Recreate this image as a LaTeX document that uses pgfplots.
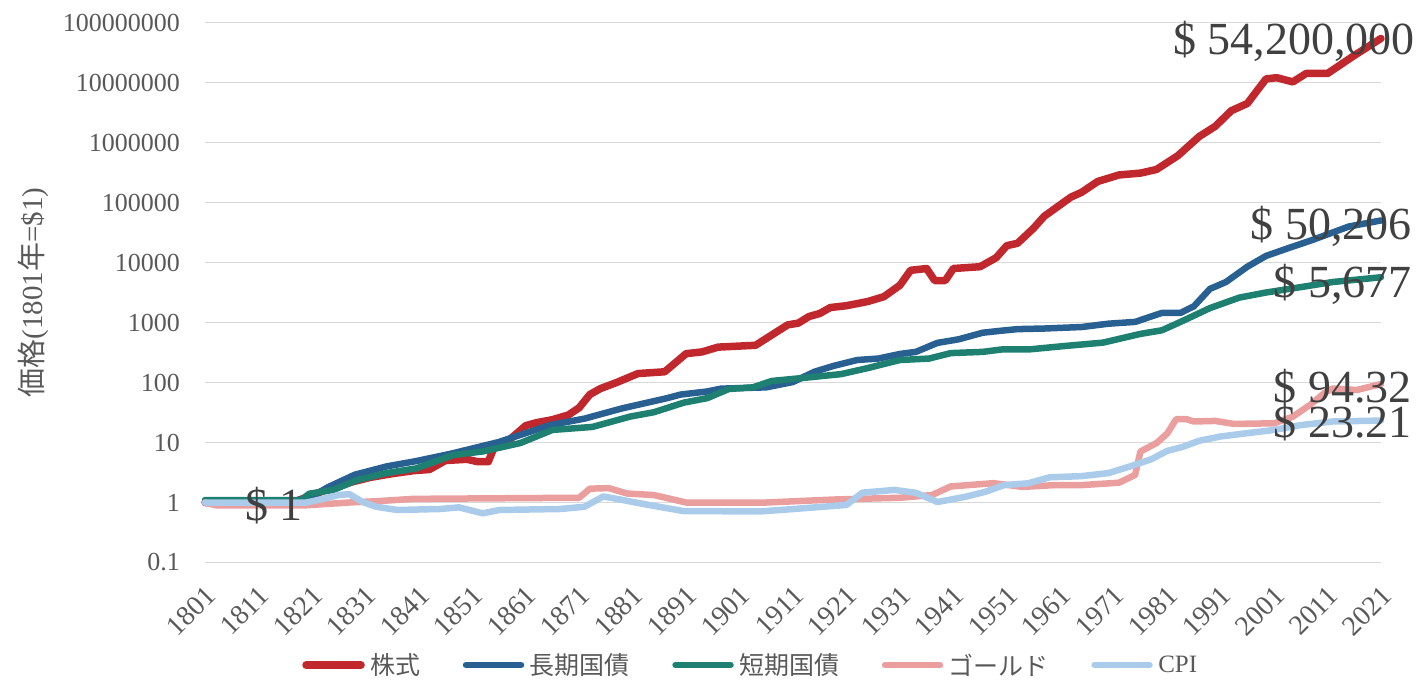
\documentclass[border=0pt]{standalone}
\usepackage{pgfplots}
\pgfplotsset{compat=1.18}
\usepackage{fontspec}
\setmainfont{Liberation Serif}
\newfontfamily\cjk{Noto Sans CJK JP}

\definecolor{cstock}{RGB}{192,40,45}
\definecolor{cbond}{RGB}{40,96,145}
\definecolor{cbill}{RGB}{30,128,112}
\definecolor{cgold}{RGB}{234,158,158}
\definecolor{ccpi}{RGB}{170,204,234}
\definecolor{ctick}{RGB}{89,89,89}
\definecolor{clab}{RGB}{64,64,64}
\definecolor{cgrid}{RGB}{217,217,217}

\newcommand\tickfont{\fontsize{25}{30}\selectfont}
\newcommand\xtickfont{\fontsize{28}{32}\selectfont}
\newcommand\ytickfont{\fontsize{26}{30}\selectfont}
\newcommand\labfont{\fontsize{46}{52}\selectfont}

\begin{document}
\begin{tikzpicture}
\useasboundingbox (0,0) rectangle (1426pt,694pt);
\begin{axis}[
  at={(205pt,131.5pt)}, anchor=south west,
  width=1176pt, height=540pt, scale only axis,
  ymode=log,
  xmin=1801, xmax=2021, ymin=0.1, ymax=1e8,
  enlargelimits=false, clip=false,
  axis line style={draw=none},
  tick style={draw=none},
  ymajorgrids=true,
  major grid style={cgrid, line width=1.8pt},
  ytick={0.1,1,10,100,1000,10000,100000,1000000,10000000,100000000},
  yticklabels={0.1,1,10,100,1000,10000,100000,1000000,10000000,100000000},
  yticklabel style={font=\ytickfont, text=ctick, anchor=east, inner sep=0pt, xshift=-25pt},
  xtick={1801,1811,1821,1831,1841,1851,1861,1871,1881,1891,1901,1911,1921,1931,1941,1951,1961,1971,1981,1991,2001,2011,2021},
  xticklabels={1801,1811,1821,1831,1841,1851,1861,1871,1881,1891,1901,1911,1921,1931,1941,1951,1961,1971,1981,1991,2001,2011,2021},
  xticklabel style={font=\xtickfont, text=ctick, inner sep=0pt, anchor=north east, xshift=-1pt, yshift=-22pt, rotate=45},
  ylabel={{\cjk 価格}(1801{\cjk 年}=\$1)},
  ylabel style={font=\fontsize{29}{32}\selectfont, text=ctick, at={(axis description cs:-0.146,0.5)}, anchor=center},
  legend columns=5,
  legend style={draw=none, fill=none, font=\tickfont, text=ctick,
    at={(axis description cs:0.4626,-0.19)}, anchor=center,
    /tikz/every even column/.append style={column sep=37pt},
    nodes={inner sep=2pt}},
  legend image code/.code={\path (0pt,0pt) (62pt,0pt); \draw[#1, line cap=round] (3.5pt,0pt) -- (58.5pt,0pt);},
  every axis plot/.append style={line join=round, line cap=round, no markers},
]

% 株式
\addplot[cstock, line width=7.5pt] coordinates {
(1801,1) (1810,1) (1818,1.05) (1821,1.32) (1824,1.66) (1828,2.14) (1832,2.63) (1836,3.02)
(1840,3.39) (1843,3.55) (1846,5.01) (1850,5.25) (1852,4.79) (1854,4.79) (1855,7.94) (1858,11.2)
(1861,19.1) (1863,21.4) (1866,24.0) (1869,28.8) (1871,38.0) (1873,63.1) (1875,79.4) (1878,100)
(1882,141) (1887,151) (1891,302) (1894,324) (1897,389) (1904,417) (1907,617) (1910,912)
(1912,977) (1914,1259) (1916,1413) (1918,1778) (1921,1905) (1925,2239) (1928,2692) (1931,4169)
(1933,7413) (1936,7943) (1937.5,5012) (1939.5,5012) (1941,7943) (1946,8511) (1949,12000) (1951,19100)
(1953,20900) (1956,37200) (1958,58900) (1963,123000) (1965,148000) (1968,224000) (1972,288000)
(1976,309000) (1979,355000) (1983,603000) (1987,1259000) (1990,1862000) (1993,3388000) (1996,4467000)
(1999.5,11480000) (2001.5,12020000) (2004.5,10230000) (2007,14130000) (2011,14130000) (2016,28180000)
(2021,54200000)
};
\addlegendentry{{\cjk 株式}}

% 長期国債
\addplot[cbond, line width=6.5pt] coordinates {
(1801,1.05) (1818,1.07) (1821,1.25) (1824,1.8) (1829,2.9) (1835,4.0) (1840.5,4.9) (1847,6.5)
(1856,10.2) (1865.5,19.5) (1872,25) (1879,37) (1887.5,55) (1890,63) (1895,71) (1897.5,79)
(1906,83) (1911,102) (1915,151) (1918.5,188) (1923,237) (1927,251) (1931,299) (1934,324)
(1938,457) (1942,525) (1946.5,676) (1950,730) (1953,776) (1958,794) (1965,841) (1970,955)
(1975,1023) (1980,1445) (1983.5,1445) (1986,1862) (1989,3631) (1992,4732) (1996,8511)
(1999.5,12880) (2004,17780) (2008,23440) (2015,39810) (2021,50206)
};
\addlegendentry{{\cjk 長期国債}}

% 短期国債
\addplot[cbill, line width=6.5pt] coordinates {
(1801,1.1) (1819,1.1) (1820.5,1.4) (1825,1.62) (1829.5,2.37) (1835,3.1) (1840.5,3.7) (1847.5,6.2)
(1853,7.1) (1860,9.8) (1866,16.2) (1873.5,18.2) (1880.5,27) (1885,32) (1890.5,46) (1895,55)
(1899,78) (1903.5,83) (1907,106) (1912,117) (1920,138) (1925,174) (1931,237) (1936.5,251)
(1940.5,309) (1946.5,324) (1950,355) (1955,355) (1962,407) (1969,462) (1976,646) (1980,741)
(1983.5,1023) (1989,1738) (1994.5,2600) (1999.5,3162) (2006,3890) (2012,4732) (2021,5677)
};
\addlegendentry{{\cjk 短期国債}}

% ゴールド
\addplot[cgold, line width=6.5pt] coordinates {
(1801,1.0) (1803,0.9) (1820,0.9) (1828,1.0) (1833,1.05) (1840,1.15) (1871,1.2) (1873,1.7)
(1876.5,1.74) (1880,1.41) (1885,1.33) (1891,1.0) (1906,1.0) (1918.5,1.12) (1931,1.2)
(1937,1.33) (1940.5,1.85) (1948.5,2.1) (1954,1.82) (1960,1.95) (1965,1.95) (1972,2.14)
(1975,2.88) (1976,7.08) (1979,9.77) (1981,14.1) (1982.7,24.5) (1984.6,24.5) (1986,22.4)
(1990,22.9) (1993.5,20.4) (2001,20.9) (2004.5,26.9) (2007.7,42.2) (2010.5,67.6) (2012,79.4)
(2016.5,75.0) (2021,94.32)
};
\addlegendentry{{\cjk ゴールド}}

% CPI
\addplot[ccpi, line width=6.5pt] coordinates {
(1801,1.0) (1820,1.0) (1822.5,1.12) (1826,1.33) (1828,1.38) (1830.5,1.02) (1833,0.85) (1837,0.75)
(1845,0.78) (1848.5,0.83) (1853,0.66) (1856,0.75) (1867.5,0.78) (1872,0.85) (1875.5,1.26)
(1878,1.15) (1884,0.91) (1890.5,0.72) (1905,0.71) (1912,0.79) (1921,0.91) (1924,1.46) (1930,1.62)
(1934,1.45) (1938,1.02) (1940.5,1.12) (1943.5,1.26) (1947,1.51) (1950.5,1.95) (1955,2.09)
(1959,2.63) (1965,2.75) (1970,3.09) (1974,3.98) (1978,5.25) (1981,7.24) (1984,8.51) (1987,10.7)
(1991,12.6) (1996.5,14.5) (2001,16.2) (2006,19.5) (2012,22.4) (2021,23.21)
};
\addlegendentry{CPI}

\node[anchor=base west, inner sep=0pt, font=\labfont, text=clab, xshift=40pt, yshift=-17.5pt] at (axis cs:1801,1) {\$ 1};
\node[anchor=base east, inner sep=0pt, font=\labfont, text=clab, xshift=34pt, yshift=-16.5pt] at (axis cs:2021,54200000) {\$ 54,200,000};
\node[anchor=base east, inner sep=0pt, font=\labfont, text=clab, xshift=31pt, yshift=-19.5pt] at (axis cs:2021,50206) {\$ 50,206};
\node[anchor=base east, inner sep=0pt, font=\labfont, text=clab, xshift=31pt, yshift=-20pt] at (axis cs:2021,5677) {\$ 5,677};
\node[anchor=base east, inner sep=0pt, font=\labfont, text=clab, xshift=31pt, yshift=-18pt] at (axis cs:2021,94.32) {\$ 94.32};
\node[anchor=base east, inner sep=0pt, font=\labfont, text=clab, xshift=31pt, yshift=-16.5pt] at (axis cs:2021,23.21) {\$ 23.21};

\end{axis}
\end{tikzpicture}
\end{document}
